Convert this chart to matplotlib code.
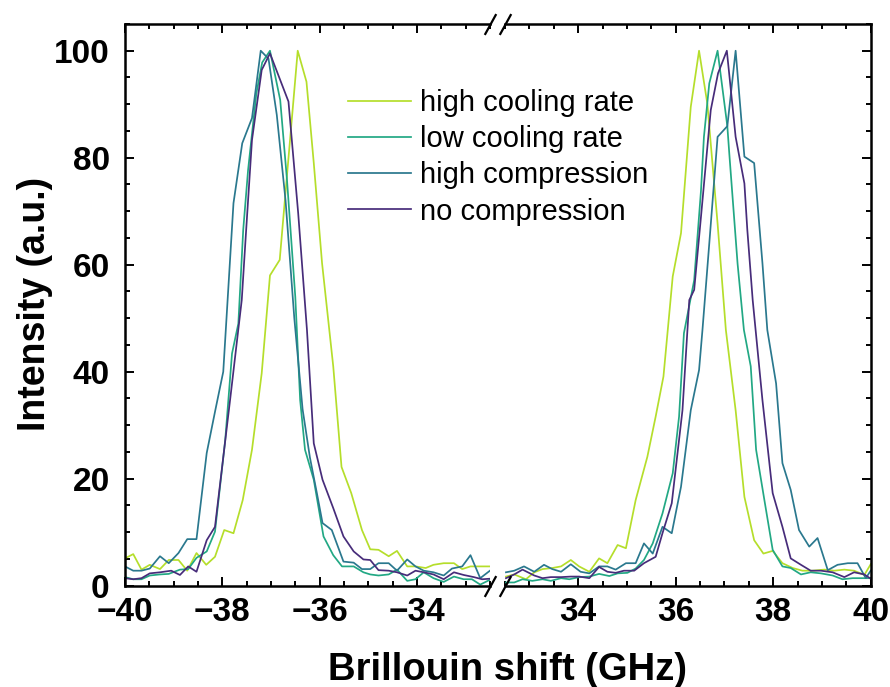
import matplotlib
matplotlib.use('Agg')
import matplotlib.pyplot as plt
from matplotlib.ticker import MultipleLocator

plt.rcParams['font.family'] = ['Liberation Sans', 'DejaVu Sans']

labels = ['high cooling rate', 'low cooling rate', 'high compression', 'no compression']
colors = ['#b5de2b', '#22a884', '#2a788e', '#472c7a']

# ---- negative (anti-Stokes) side ----
hcr_xl = [-40.0, -39.83, -39.66, -39.49, -39.28, -39.1, -38.9, -38.72, -38.53, -38.33, -38.15, -37.96,
          -37.77, -37.58, -37.39, -37.19, -37.02, -36.82, -36.45, -36.27, -36.12, -35.95, -35.72,
          -35.55, -35.35, -35.13, -34.96, -34.79, -34.58, -34.41, -34.2, -34.03, -33.82, -33.66,
          -33.45, -33.24, -33.07, -32.9, -32.7, -32.5]
hcr_yl = [5.1, 5.9, 3.0, 3.9, 3.1, 4.8, 4.8, 2.8, 6.1, 3.9, 5.4, 10.4,
          9.8, 16.0, 25.4, 39.7, 58.0, 60.9, 100.0, 94.2, 79.0, 60.3, 41.0,
          22.2, 17.3, 10.4, 6.8, 6.7, 5.5, 6.5, 3.6, 3.6, 3.3, 3.9,
          4.2, 4.2, 3.1, 3.6, 3.6, 3.6]

lc_xl = [-40.0, -39.83, -39.66, -39.49, -39.28, -39.1, -38.87, -38.7, -38.53, -38.32, -38.15, -37.94,
         -37.8, -37.67, -37.57, -37.47, -37.3, -37.18, -37.02, -36.81, -36.67, -36.5, -36.4, -36.3,
         -36.12, -35.92, -35.72, -35.54, -35.3, -35.1, -34.96, -34.79, -34.58, -34.41, -34.2,
         -34.03, -33.86, -33.66, -33.45, -33.24, -33.04, -32.87, -32.7, -32.5]
lc_yl = [1.6, 1.2, 1.2, 1.9, 2.1, 2.2, 3.0, 3.1, 5.2, 6.4, 10.1, 27.2,
         43.4, 49.0, 66.5, 77.7, 92.0, 97.8, 100.0, 90.8, 75.8, 54.0, 34.7, 25.4,
         19.8, 9.2, 5.7, 3.6, 3.6, 2.5, 2.1, 1.9, 2.1, 3.0, 0.9,
         1.2, 2.5, 1.4, 0.7, 1.7, 1.2, 1.2, 0.2, 1.1]

hc_xl = [-40.0, -39.83, -39.66, -39.49, -39.28, -39.1, -38.9, -38.72, -38.53, -38.32, -38.15, -37.98,
         -37.77, -37.59, -37.39, -37.21, -37.05, -36.88, -36.7, -36.52, -36.35, -36.2, -36.05,
         -35.94, -35.75, -35.51, -35.3, -35.13, -34.96, -34.79, -34.58, -34.41, -34.2, -34.03,
         -33.86, -33.66, -33.45, -33.28, -33.07, -32.9, -32.7, -32.5]
hc_yl = [3.6, 2.8, 2.8, 3.2, 5.5, 4.2, 6.1, 8.7, 8.7, 24.8, 32.5, 40.0,
         71.5, 82.7, 87.4, 100.0, 98.5, 88.0, 72.0, 50.0, 33.0, 24.0, 17.0,
         11.7, 10.4, 4.5, 4.3, 3.1, 3.1, 4.2, 4.2, 2.8, 4.9, 3.6,
         2.8, 2.5, 1.9, 3.2, 3.6, 5.7, 1.4, 2.8]

nc_xl = [-40.0, -39.83, -39.66, -39.49, -39.28, -39.05, -38.87, -38.7, -38.53, -38.32, -38.15, -37.84,
         -37.6, -37.52, -37.39, -37.19, -37.02, -36.64, -36.44, -36.26, -36.12, -35.94, -35.72,
         -35.51, -35.3, -35.1, -34.96, -34.79, -34.58, -34.41, -34.2, -34.03, -33.86, -33.66,
         -33.45, -33.24, -33.04, -32.83, -32.66, -32.5]
nc_yl = [1.4, 1.2, 1.4, 2.3, 2.5, 2.8, 2.0, 3.6, 2.6, 8.5, 11.0, 34.7,
         53.4, 65.0, 83.3, 96.4, 99.5, 90.5, 69.6, 47.8, 26.6, 19.8, 14.5,
         9.2, 6.4, 4.9, 4.8, 2.9, 2.8, 2.5, 1.9, 2.8, 2.5, 2.1,
         1.2, 2.5, 2.0, 1.6, 1.2, 1.3]

# ---- positive (Stokes) side ----
hcr_xr = [32.52, 32.69, 32.93, 33.1, 33.27, 33.47, 33.65, 33.85, 34.02, 34.23, 34.43, 34.6,
          34.81, 34.98, 35.18, 35.42, 35.59, 35.75, 35.94, 36.11, 36.31, 36.48, 36.65, 36.86,
          37.03, 37.23, 37.41, 37.61, 37.8, 37.99, 38.19, 38.4, 38.6, 38.81, 39.05, 39.25,
          39.46, 39.66, 39.87, 40.0]
hcr_yr = [1.7, 2.1, 1.2, 2.5, 3.1, 3.3, 3.6, 4.8, 3.6, 2.6, 5.1, 4.2,
          7.6, 7.0, 16.0, 24.1, 31.6, 39.1, 57.8, 65.9, 89.5, 100.0, 90.1, 67.7,
          47.8, 32.8, 16.6, 8.5, 6.0, 6.5, 4.2, 3.3, 2.8, 2.8, 3.0, 2.8,
          3.0, 2.8, 2.0, 4.0]

lc_xr = [32.52, 32.69, 32.86, 33.06, 33.27, 33.44, 33.65, 33.82, 34.02, 34.23, 34.43, 34.64,
         34.81, 35.01, 35.18, 35.35, 35.53, 35.73, 35.94, 36.07, 36.17, 36.38, 36.52, 36.58,
         36.69, 36.86, 37.06, 37.1, 37.27, 37.4, 37.54, 37.65, 37.82, 37.99, 38.19, 38.36,
         38.57, 38.77, 38.98, 39.22, 39.42, 39.63, 39.83, 40.0]
lc_yr = [0.6, 0.6, 1.2, 0.9, 1.2, 0.9, 1.4, 1.2, 1.6, 1.7, 2.2, 1.8,
         2.3, 2.4, 3.2, 4.8, 7.9, 13.5, 21.0, 31.6, 47.2, 57.1, 73.9, 83.9,
         93.9, 100.0, 85.9, 80.8, 60.2, 47.8, 41.0, 25.4, 16.0, 6.7, 3.6, 3.3,
         2.1, 2.5, 2.3, 1.9, 1.2, 1.4, 1.4, 1.4]

hc_xr = [32.52, 32.69, 32.89, 33.1, 33.3, 33.47, 33.65, 33.85, 34.05, 34.23, 34.43, 34.6,
         34.77, 34.98, 35.18, 35.35, 35.53, 35.73, 35.92, 36.11, 36.31, 36.48, 36.55, 36.69,
         36.86, 37.06, 37.23, 37.41, 37.61, 37.78, 37.88, 38.06, 38.19, 38.36, 38.53, 38.74,
         38.91, 39.12, 39.32, 39.53, 39.73, 39.9, 40.0]
hc_yr = [2.5, 2.8, 3.6, 2.6, 3.9, 3.1, 2.6, 4.0, 2.6, 2.3, 3.6, 3.6,
         3.0, 4.2, 4.2, 7.9, 6.0, 11.0, 9.8, 18.5, 32.8, 40.3, 47.8, 64.0,
         83.9, 85.9, 100.0, 80.2, 79.0, 60.3, 47.8, 37.8, 22.9, 17.9, 10.4, 7.3,
         8.9, 2.9, 3.9, 4.2, 4.2, 1.4, 2.8]

nc_xr = [32.52, 32.69, 32.86, 33.1, 33.27, 33.44, 33.65, 33.85, 34.02, 34.23, 34.43, 34.6,
         34.77, 34.94, 35.15, 35.35, 35.59, 35.73, 35.92, 36.14, 36.28, 36.38, 36.52, 36.72,
         36.87, 37.05, 37.23, 37.41, 37.47, 37.58, 37.78, 37.99, 38.19, 38.36, 38.57, 38.77,
         38.98, 39.22, 39.46, 39.66, 39.87, 40.0]
nc_yr = [1.4, 2.1, 3.0, 1.9, 1.4, 1.6, 1.6, 1.7, 1.7, 1.4, 3.5, 2.6,
         2.4, 2.8, 2.8, 4.2, 5.4, 9.8, 15.4, 32.8, 53.4, 55.3, 69.0, 88.9,
         95.8, 100.0, 83.9, 75.2, 66.5, 53.4, 34.7, 17.3, 11.0, 5.1, 3.9, 2.8,
         2.8, 2.5, 1.6, 2.5, 2.1, 1.3]

left = [(hcr_xl, hcr_yl), (lc_xl, lc_yl), (hc_xl, hc_yl), (nc_xl, nc_yl)]
right = [(hcr_xr, hcr_yr), (lc_xr, lc_yr), (hc_xr, hc_yr), (nc_xr, nc_yr)]

fig = plt.figure(figsize=(8.9, 6.87), dpi=100)
ax1 = fig.add_axes([0.1404, 0.1475, 0.4101, 0.8176])
ax2 = fig.add_axes([0.5674, 0.1475, 0.4109, 0.8176])

handles = []
for (x, y), c, lab in zip(left, colors, labels):
    h, = ax1.plot(x, y, color=c, lw=1.25, label=lab)
    handles.append(h)
for (x, y), c in zip(right, colors):
    ax2.plot(x, y, color=c, lw=1.25)

ax1.set_xlim(-40, -32.5)
ax2.set_xlim(32.5, 40)
ax1.set_xticks([-40, -38, -36, -34])
ax2.set_xticks([34, 36, 38, 40])
for ax in (ax1, ax2):
    ax.set_ylim(0, 105)
    ax.xaxis.set_minor_locator(MultipleLocator(0.5))
    ax.yaxis.set_major_locator(MultipleLocator(20))
    ax.yaxis.set_minor_locator(MultipleLocator(5))
    for s in ax.spines.values():
        s.set_linewidth(1.8)
    ax.tick_params(which='both', direction='in', top=True, width=1.4, labelsize=24)
    ax.tick_params(axis='x', pad=8)
    ax.tick_params(axis='y', pad=11)
    ax.tick_params(which='major', length=6.5)
    ax.tick_params(which='minor', length=3.3)

ax1.spines['right'].set_visible(False)
ax2.spines['left'].set_visible(False)
ax1.tick_params(which='both', right=False)
ax2.tick_params(which='both', left=False, right=True, labelleft=False)
for lbl in ax1.get_xticklabels() + ax2.get_xticklabels() + ax1.get_yticklabels():
    lbl.set_fontweight('bold')

# axis break marks
brk = dict(marker=[(-0.55, -1), (0.55, 1)], markersize=15, linestyle='none',
           color='k', mec='k', mew=1.6, clip_on=False)
ax1.plot([1, 1], [0, 1], transform=ax1.transAxes, **brk)
ax2.plot([0, 0], [0, 1], transform=ax2.transAxes, **brk)

fig.legend(handles, labels, loc='upper left', bbox_to_anchor=(348 / 890, 1 - 89 / 687),
           frameon=False, fontsize=21, handlelength=2.15, handletextpad=0.33,
           labelspacing=0.28, borderpad=0, borderaxespad=0)

fig.text(508 / 890, 1 - 670 / 687, 'Brillouin shift (GHz)', ha='center', va='center',
         fontsize=27.5, fontweight='bold')
fig.text(35 / 890, 1 - 304 / 687, 'Intensity (a.u.)', ha='center', va='center',
         rotation=90, fontsize=27, fontweight='bold')

fig.savefig('out.png', dpi=100)
